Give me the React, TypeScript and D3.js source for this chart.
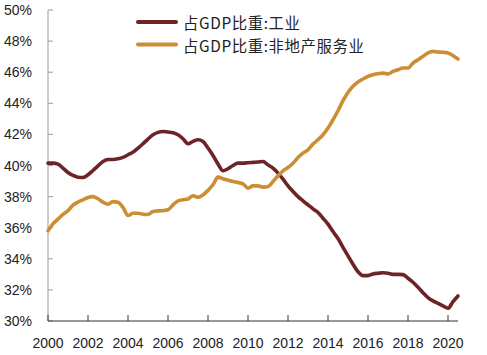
import React from "react";
import * as d3 from "d3";

// Quarterly observations, 2000Q1 .. 2020Q3
const startYear = 2000;
const industryShare = [
  40.15, 40.15, 40.09, 39.83,
  39.55, 39.36, 39.25, 39.23,
  39.40, 39.68, 39.98, 40.26,
  40.39, 40.39, 40.43, 40.52,
  40.69, 40.86, 41.12, 41.40,
  41.70, 41.98, 42.13, 42.19,
  42.15, 42.11, 41.98, 41.72,
  41.40, 41.55, 41.66, 41.55,
  41.12, 40.64, 40.09, 39.66,
  39.79, 40.00, 40.15, 40.15,
  40.18, 40.20, 40.22, 40.26,
  40.04, 39.83, 39.51, 39.12,
  38.69, 38.33, 38.00, 37.73,
  37.47, 37.21, 36.98, 36.61,
  36.23, 35.75, 35.30, 34.74,
  34.19, 33.65, 33.17, 32.92,
  32.92, 33.03, 33.07, 33.10,
  33.07, 33.00, 33.00, 32.98,
  32.75, 32.49, 32.17, 31.82,
  31.50, 31.29, 31.14, 30.97,
  30.82, 31.24, 31.61,
];
const serviceShare = [
  35.80, 36.25, 36.55, 36.85,
  37.10, 37.45, 37.65, 37.79,
  37.94, 38.00, 37.86, 37.64,
  37.51, 37.68, 37.64, 37.30,
  36.78, 36.93, 36.93, 36.87,
  36.85, 37.04, 37.08, 37.10,
  37.15, 37.47, 37.73, 37.80,
  37.85, 38.05, 37.96, 38.11,
  38.40, 38.76, 39.25, 39.15,
  39.05, 38.97, 38.90, 38.82,
  38.54, 38.69, 38.69, 38.61,
  38.65, 38.97, 39.34, 39.66,
  39.87, 40.15, 40.52, 40.80,
  41.01, 41.38, 41.66, 41.98,
  42.41, 42.94, 43.52, 44.17,
  44.70, 45.09, 45.38, 45.56,
  45.73, 45.84, 45.90, 45.94,
  45.88, 46.05, 46.16, 46.27,
  46.27, 46.59, 46.80, 47.02,
  47.24, 47.34, 47.30, 47.28,
  47.24, 47.06, 46.85,
];
const seriesNames = ["占GDP比重:工业", "占GDP比重:非地产服务业"];
const seriesColors = ["#6d2427", "#cc8e33"];
const xTicks = [2000, 2002, 2004, 2006, 2008, 2010, 2012, 2014, 2016, 2018, 2020];
const yTicks = [30, 32, 34, 36, 38, 40, 42, 44, 46, 48, 50];

const W = 487;
const H = 355;
const left = 48;
const right = 458;
const top = 10;
const bottom = 321;

export default function App() {
  const x = d3.scaleLinear().domain([2000, 2020.5]).range([left, right]);
  const y = d3.scaleLinear().domain([30, 50]).range([bottom, top]);
  const line = d3
    .line<number>()
    .x((_, i) => x(startYear + i * 0.25))
    .y((d) => y(d))
    .curve(d3.curveMonotoneX);
  const series = [industryShare, serviceShare];
  const font = "'Liberation Sans', Arial, sans-serif";
  const cjk = "'Noto Sans CJK SC', 'Liberation Sans', sans-serif";

  return (
    <svg
      width={W}
      height={H}
      style={{ position: "absolute", left: 0, top: 0, display: "block", background: "#fff" }}
    >
      {/* y axis */}
      <line x1={left} x2={left} y1={top} y2={bottom} stroke="#9a9a9a" strokeWidth={1} />
      {yTicks.map((t) => (
        <g key={t}>
          <line x1={left} x2={left + 5} y1={y(t)} y2={y(t)} stroke="#9a9a9a" strokeWidth={1} />
          <text
            x={32}
            y={y(t)}
            textAnchor="end"
            dominantBaseline="central"
            fontFamily={font}
            fontSize={14}
            fill="#222"
          >
            {t}%
          </text>
        </g>
      ))}
      {/* x axis */}
      <line x1={left} x2={right} y1={bottom} y2={bottom} stroke="#333" strokeWidth={1} />
      {xTicks.map((t) => (
        <g key={t}>
          <line x1={x(t)} x2={x(t)} y1={bottom} y2={bottom - 6} stroke="#333" strokeWidth={1} />
          <text
            x={x(t)}
            y={348}
            textAnchor="middle"
            fontFamily={font}
            fontSize={14}
            fill="#222"
          >
            {t}
          </text>
        </g>
      ))}
      {/* lines */}
      {series.map((s, i) => (
        <path
          key={i}
          d={line(s) || ""}
          fill="none"
          stroke={seriesColors[i]}
          strokeWidth={3.6}
          strokeLinejoin="round"
          strokeLinecap="round"
        />
      ))}
      {/* legend */}
      {seriesNames.map((n, i) => (
        <g key={n} transform={`translate(0, ${22 + i * 22.5})`}>
          <line x1={138} x2={176} y1={0} y2={0} stroke={seriesColors[i]} strokeWidth={4} strokeLinecap="round" />
          <text
            x={183}
            y={0}
            dominantBaseline="central"
            fontFamily={cjk}
            fontSize={15.4}
            letterSpacing={0.6}
            fill="#222"
          >
            {n}
          </text>
        </g>
      ))}
    </svg>
  );
}
